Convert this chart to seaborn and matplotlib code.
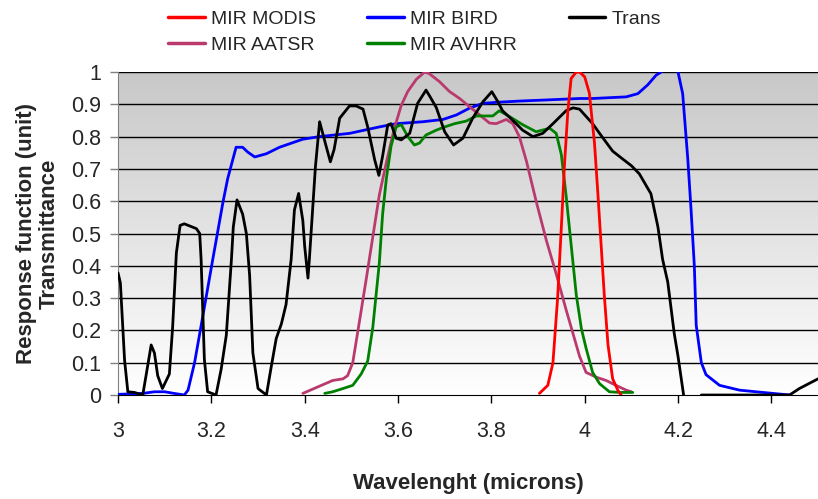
import numpy as np
import pandas as pd
import seaborn as sns
import matplotlib.pyplot as plt
from matplotlib.lines import Line2D
from matplotlib.colors import LinearSegmentedColormap

# %% data
modis_x = [3.903, 3.921, 3.932, 3.942, 3.95, 3.957, 3.964, 3.971, 3.982, 3.989, 4.0, 4.01,
           4.021, 4.028, 4.035, 4.042, 4.05, 4.06, 4.071, 4.078]
modis_y = [0.005, 0.03, 0.10, 0.30, 0.52, 0.72, 0.88, 0.98, 1.0, 1.0, 0.985, 0.935,
           0.78, 0.63, 0.47, 0.31, 0.155, 0.05, 0.015, 0.0]

bird_x = [3.0, 3.053, 3.078, 3.10, 3.12, 3.142, 3.15, 3.164, 3.182, 3.203, 3.225, 3.235,
          3.253, 3.267, 3.278, 3.293, 3.318, 3.346, 3.396, 3.432, 3.496, 3.56, 3.596,
          3.653, 3.696, 3.725, 3.753, 3.782, 3.81, 3.86, 3.91, 3.989, 4.017, 4.089, 4.114,
          4.135, 4.153, 4.164, 4.18, 4.2, 4.21, 4.221, 4.228, 4.235, 4.239, 4.25, 4.26,
          4.289, 4.332, 4.403, 4.44]
bird_y = [0.002, 0.005, 0.01, 0.01, 0.005, 0.0, 0.015, 0.10, 0.247, 0.42, 0.598, 0.67,
          0.767, 0.767, 0.752, 0.737, 0.747, 0.767, 0.792, 0.80, 0.81, 0.83, 0.84,
          0.846, 0.853, 0.867, 0.888, 0.903, 0.906, 0.91, 0.913, 0.918, 0.918, 0.923, 0.933,
          0.96, 0.99, 1.0, 1.04, 1.0, 0.933, 0.73, 0.573, 0.40, 0.216, 0.10, 0.063,
          0.03, 0.015, 0.005, 0.0]

trans_x = [3.0, 3.005, 3.014, 3.021, 3.035, 3.053, 3.06, 3.071, 3.078, 3.085, 3.095, 3.11,
           3.117, 3.125, 3.133, 3.142, 3.168, 3.175, 3.178, 3.185, 3.192, 3.21, 3.221,
           3.232, 3.243, 3.247, 3.255, 3.267, 3.275, 3.282, 3.289, 3.30, 3.318, 3.328,
           3.339, 3.35, 3.36, 3.371, 3.378, 3.387, 3.396, 3.40, 3.407, 3.41, 3.423, 3.432,
           3.434, 3.446, 3.455, 3.463, 3.475, 3.496, 3.51, 3.525, 3.535, 3.55, 3.559,
           3.567, 3.578, 3.585, 3.596, 3.607, 3.625, 3.642, 3.66, 3.668, 3.682, 3.70,
           3.719, 3.739, 3.76, 3.782, 3.801, 3.814, 3.824, 3.846, 3.867, 3.889, 3.91,
           3.932, 3.96, 3.975, 3.989, 4.017, 4.039, 4.06, 4.082, 4.10, 4.117, 4.142,
           4.157, 4.167, 4.178, 4.185, 4.192, 4.2, 4.212]
trans_y = [0.378, 0.347, 0.108, 0.01, 0.008, 0.0, 0.06, 0.155, 0.13, 0.06, 0.02, 0.065,
           0.21, 0.44, 0.525, 0.53, 0.515, 0.50, 0.42, 0.11, 0.01, 0.0, 0.08,
           0.185, 0.42, 0.52, 0.604, 0.56, 0.50, 0.37, 0.13, 0.02, 0.0, 0.085,
           0.175, 0.22, 0.28, 0.42, 0.573, 0.624, 0.54, 0.46, 0.362, 0.42, 0.707, 0.846,
           0.835, 0.77, 0.722, 0.76, 0.857, 0.895, 0.895, 0.885, 0.83, 0.728, 0.68,
           0.74, 0.836, 0.84, 0.795, 0.79, 0.81, 0.903, 0.944, 0.925, 0.89, 0.815,
           0.774, 0.795, 0.857, 0.908, 0.939, 0.908, 0.88, 0.85, 0.82, 0.80, 0.81,
           0.84, 0.88, 0.889, 0.885, 0.84, 0.796, 0.755, 0.73, 0.71, 0.685, 0.623,
           0.52, 0.42, 0.35, 0.27, 0.19, 0.12, 0.0]
trans_tail_x = [4.25, 4.439, 4.46, 4.5]
trans_tail_y = [0.0, 0.0, 0.02, 0.05]

aatsr_x = [3.396, 3.46, 3.482, 3.492, 3.503, 3.517, 3.532, 3.546, 3.56, 3.575, 3.592, 3.607,
           3.621, 3.639, 3.657, 3.667, 3.689, 3.71, 3.732, 3.753, 3.775, 3.796, 3.81,
           3.832, 3.846, 3.86, 3.875, 3.896, 3.918, 3.939, 3.96, 3.975, 3.989, 4.003,
           4.025, 4.046, 4.067, 4.089, 4.1]
aatsr_y = [0.005, 0.045, 0.05, 0.06, 0.10, 0.225, 0.36, 0.49, 0.62, 0.72, 0.825, 0.897,
           0.94, 0.977, 1.0, 0.995, 0.97, 0.94, 0.918, 0.893, 0.867, 0.842, 0.84,
           0.853, 0.84, 0.80, 0.725, 0.60, 0.478, 0.375, 0.265, 0.19, 0.12, 0.07,
           0.055, 0.045, 0.03, 0.015, 0.01]

avhrr_x = [3.443, 3.46, 3.482, 3.503, 3.521, 3.535, 3.546, 3.553, 3.56, 3.567, 3.575, 3.585,
           3.596, 3.607, 3.621, 3.635, 3.646, 3.66, 3.682, 3.70, 3.721, 3.746, 3.768,
           3.803, 3.817, 3.839, 3.867, 3.896, 3.925, 3.939, 3.95, 3.96, 3.971, 3.982,
           3.993, 4.003, 4.017, 4.032, 4.053, 4.075, 4.103]
avhrr_y = [0.005, 0.01, 0.02, 0.03, 0.065, 0.105, 0.21, 0.31, 0.41, 0.56, 0.67, 0.77,
           0.83, 0.837, 0.80, 0.774, 0.78, 0.805, 0.82, 0.83, 0.84, 0.848, 0.864,
           0.864, 0.88, 0.862, 0.837, 0.815, 0.826, 0.81, 0.744, 0.62, 0.465, 0.31,
           0.205, 0.145, 0.07, 0.035, 0.01, 0.008, 0.008]

series = ["MIR MODIS", "MIR BIRD", "Trans", "MIR AATSR", "MIR AVHRR"]
colors = {"MIR MODIS": "#FF0000", "MIR BIRD": "#0000FF", "Trans": "#000000",
          "MIR AATSR": "#BA3A6E", "MIR AVHRR": "#008000"}
x_ticks = [3, 3.2, 3.4, 3.6, 3.8, 4, 4.2, 4.4]
y_ticks = [0, 0.1, 0.2, 0.3, 0.4, 0.5, 0.6, 0.7, 0.8, 0.9, 1]


def frame(name, seg, xs, ys):
    return pd.DataFrame({"wavelength": xs, "value": ys, "series": name, "segment": seg})


df = pd.concat([
    frame("MIR BIRD", "bird", bird_x, bird_y),
    frame("MIR AATSR", "aatsr", aatsr_x, aatsr_y),
    frame("MIR AVHRR", "avhrr", avhrr_x, avhrr_y),
    frame("Trans", "trans1", trans_x, trans_y),
    frame("Trans", "trans2", trans_tail_x, trans_tail_y),
    frame("MIR MODIS", "modis", modis_x, modis_y),
], ignore_index=True)

# %% plot
sns.set_style("white")
plt.rcParams["font.family"] = ["Liberation Sans", "DejaVu Sans"]
plt.rcParams["font.size"] = 15

fig = plt.figure(figsize=(8.18, 4.99), dpi=100)
ax = fig.add_axes([0.1443, 0.2084, 0.8557, 0.6473])

# grey-to-white gradient background
cmap = LinearSegmentedColormap.from_list("bg", ["#ffffff", "#c8c8c8"])
ax.imshow(np.linspace(0, 1, 256).reshape(-1, 1), extent=[3, 4.5, 0, 1], aspect="auto",
          cmap=cmap, origin="lower", zorder=0)

for yt in y_ticks[1:]:
    ax.axhline(yt, color="black", lw=1.0, zorder=1)

sns.lineplot(data=df, x="wavelength", y="value", hue="series", units="segment",
             estimator=None, sort=False, palette=colors, lw=2.0, legend=False, ax=ax,
             zorder=3)

ax.set_xlim(3, 4.5)
ax.set_ylim(0, 1)
ax.set_xticks(x_ticks)
ax.set_xticklabels([f"{t:g}" for t in x_ticks])
ax.set_yticks(y_ticks)
ax.set_yticklabels([f"{t:g}" for t in y_ticks])
ax.tick_params(axis="x", direction="out", length=6, width=1, pad=13, labelsize=15.5,
               bottom=True, color="black")
ax.tick_params(axis="y", direction="out", length=6, width=1, pad=6, labelsize=15.5,
               left=True, color="#808080")
for side in ["top", "right"]:
    ax.spines[side].set_visible(False)
ax.spines["left"].set_color("#808080")
ax.spines["bottom"].set_color("black")

ax.set_xlabel("Wavelenght (microns)", fontweight="bold", fontsize=16, labelpad=22)
ax.set_ylabel("Response function (unit)\nTransmittance", fontweight="bold", fontsize=16,
              labelpad=8, linespacing=1.15)

order = ["MIR MODIS", "MIR AATSR", "MIR BIRD", "MIR AVHRR", "Trans"]
handles = [Line2D([], [], color=colors[s], lw=2.5) for s in order]
fig.legend(handles=handles, labels=order, loc="upper left", bbox_to_anchor=(0.2054, 0.98),
           ncol=3, frameon=False, fontsize=14, handlelength=1.9, handletextpad=0.3,
           columnspacing=2.65, labelspacing=0.45, borderaxespad=0, borderpad=0)

plt.savefig("out.png", dpi=100)
